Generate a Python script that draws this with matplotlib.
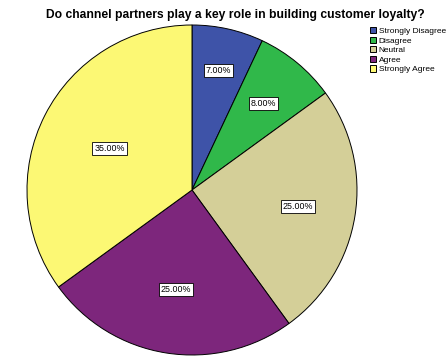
import numpy as np
import matplotlib
matplotlib.use("Agg")
import matplotlib.pyplot as plt

categories = ["Strongly Disagree", "Disagree", "Neutral", "Agree", "Strongly Agree"]
percents = [7.0, 8.0, 25.0, 25.0, 35.0]
colors = ["#3e53a8", "#30b84a", "#d4cf98", "#7d267c", "#fcf874"]

plt.rcParams["font.family"] = ["Liberation Sans", "DejaVu Sans"]

W, H = 448, 356
fig = plt.figure(figsize=(W / 100, H / 100), dpi=100)

# pie sits in a square box, pixel coords of the box
cx, cy, r = 192, 190, 165
ax = fig.add_axes([(cx - r) / W, (H - cy - r) / H, 2 * r / W, 2 * r / H])

wedges, _ = ax.pie(percents, colors=colors, startangle=90, counterclock=False,
                   radius=1, wedgeprops=dict(edgecolor="black", linewidth=0.7))
ax.set_xlim(-1, 1)
ax.set_ylim(-1, 1)
ax.set_aspect("equal")
ax.axis("off")

# value labels, small slices a bit further out
label_r = [0.74, 0.68, 0.65, 0.61, 0.56]
for w, p, d in zip(wedges, percents, label_r):
    ang = np.deg2rad((w.theta1 + w.theta2) / 2)
    ax.text(d * np.cos(ang), d * np.sin(ang), f"{p:.2f}%", ha="center", va="center",
            fontsize=6.4,
            bbox=dict(boxstyle="square,pad=0.22", facecolor="white", edgecolor="black",
                      linewidth=0.6))

fig.text(235 / W, 1 - 15 / H, "Do channel partners play a key role in building customer loyalty?",
         ha="center", va="center", fontsize=8.7, fontweight="bold")

fig.legend(wedges, categories, loc="upper left", bbox_to_anchor=(370 / W, 1 - 27 / H),
           frameon=False, fontsize=6.0, handlelength=0.75, handleheight=0.75,
           handletextpad=0.3, labelspacing=0.2, borderaxespad=0, borderpad=0)

fig.savefig("out.png", dpi=100)
